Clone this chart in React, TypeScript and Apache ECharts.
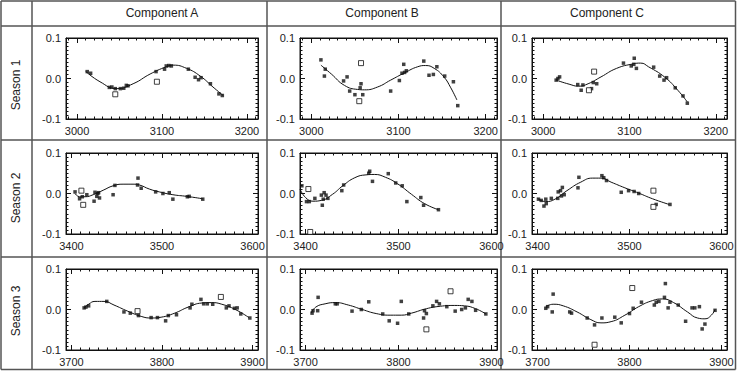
import React, { useEffect, useRef } from "react";
import * as echarts from "echarts";

// ---------- data ----------
const columnTitles = ["Component A", "Component B", "Component C"];
const rowTitles = ["Season 1", "Season 2", "Season 3"];
const rowXRanges = [
  [2987, 3213],
  [3394, 3606],
  [3694, 3906],
];
const yTicks = [-0.1, 0.0, 0.1];

// Season 1
const s1aFilled = [[3012,0.017],[3016,0.013],[3038,-0.022],[3041,-0.021],[3045,-0.025],[3051,-0.025],[3055,-0.024],[3058,-0.017],[3060,-0.018],[3093,0.017],[3103,0.023],[3105,0.031],[3108,0.032],[3111,0.031],[3131,0.023],[3139,0.003],[3143,-0.003],[3146,0.002],[3157,-0.013],[3167,-0.038],[3171,-0.042]];
const s1aOpen = [[3045,-0.039],[3094,-0.008]];
const s1aFit = [[3010,0.018],[3027,-0.008],[3047,-0.025],[3066,-0.013],[3086,0.011],[3105,0.029],[3113,0.033],[3129,0.025],[3145,0.006],[3160,-0.021],[3172,-0.042]];

const s1bFilled = [[3011,0.046],[3016,0.023],[3015,0.006],[3037,-0.006],[3041,0.004],[3044,-0.031],[3050,-0.040],[3056,-0.023],[3057,-0.013],[3059,-0.040],[3091,-0.031],[3101,-0.005],[3104,0.013],[3106,0.035],[3107,0.015],[3109,0.019],[3129,0.043],[3135,0.008],[3140,0.010],[3144,0.029],[3153,0.006],[3163,-0.008],[3168,-0.067]];
const s1bOpen = [[3057,0.038],[3055,-0.056]];
const s1bFit = [[3011,0.033],[3023,0.011],[3038,-0.017],[3053,-0.027],[3061,-0.028],[3076,-0.021],[3091,-0.004],[3107,0.014],[3122,0.029],[3131,0.032],[3141,0.025],[3152,0.004],[3160,-0.023],[3167,-0.053]];

const s1cFilled = [[3015,-0.004],[3017,0.0],[3019,0.004],[3040,-0.015],[3044,-0.029],[3046,-0.016],[3056,-0.025],[3058,-0.010],[3062,-0.013],[3093,0.038],[3102,0.031],[3105,0.035],[3105.5,0.050],[3108,0.025],[3128,0.028],[3135,0.006],[3140,-0.004],[3143,0.002],[3153,-0.023],[3162,-0.043],[3167,-0.061]];
const s1cOpen = [[3059,0.017],[3053,-0.029]];
const s1cFit = [[3015,-0.004],[3030,-0.014],[3041,-0.019],[3052,-0.013],[3067,0.004],[3085,0.025],[3104,0.036],[3113,0.038],[3122,0.029],[3141,0.003],[3156,-0.029],[3167,-0.058]];

// Season 2
const s2aFilled = [[3404,0.004],[3409,-0.013],[3412,-0.008],[3417,-0.003],[3425,-0.019],[3426,0.003],[3428,-0.007],[3429,0.0],[3430,0.002],[3431,-0.011],[3446,-0.003],[3448,0.020],[3473,0.021],[3473.5,0.038],[3477,0.013],[3493,0.004],[3501,0.0],[3508,0.002],[3512,-0.014],[3528,-0.008],[3530,-0.007],[3545,-0.014]];
const s2aOpen = [[3411,0.007],[3413,-0.028]];
const s2aFit = [[3404,0.0],[3409,-0.008],[3415,-0.008],[3424,-0.003],[3435,0.008],[3446,0.019],[3457,0.023],[3468,0.023],[3475,0.021],[3486,0.011],[3497,0.004],[3512,-0.003],[3527,-0.007],[3545,-0.013]];

const s2bFilled = [[3396,0.019],[3401,-0.020],[3404,-0.020],[3410,-0.012],[3417,-0.004],[3418,-0.029],[3419,-0.014],[3420,0.002],[3422,-0.004],[3424,-0.012],[3439,0.007],[3441,0.021],[3468,0.050],[3469,0.055],[3472,0.030],[3489,0.049],[3497,0.026],[3504,0.019],[3509,-0.020],[3524,-0.010],[3527,-0.029],[3543,-0.040]];
const s2bOpen = [[3403,0.011],[3405,-0.095]];
const s2bFit = [[3394,0.011],[3400,-0.010],[3408,-0.019],[3417,-0.017],[3429,-0.002],[3440,0.019],[3453,0.039],[3465,0.046],[3474,0.047],[3486,0.040],[3499,0.024],[3514,-0.002],[3528,-0.025],[3543,-0.040]];

const s2cFilled = [[3401,-0.014],[3404,-0.017],[3407,-0.031],[3409,-0.014],[3409.5,-0.025],[3415,-0.012],[3422,-0.012],[3422.5,0.004],[3425,0.007],[3426,-0.006],[3427,0.015],[3429,-0.003],[3444,0.014],[3445,0.040],[3470,0.044],[3472,0.039],[3475,0.032],[3491,0.003],[3499,0.007],[3505,0.005],[3510,0.0],[3529,-0.027],[3544,-0.027]];
const s2cOpen = [[3526,0.007],[3526,-0.033]];
const s2cFit = [[3400,-0.012],[3409,-0.020],[3419,-0.014],[3432,0.007],[3447,0.028],[3460,0.038],[3469,0.038],[3480,0.028],[3495,0.014],[3510,0.001],[3525,-0.013],[3543,-0.027]];

// Season 3
const s3aFilled = [[3714,0.004],[3716,0.006],[3719,0.009],[3739,0.020],[3758,-0.006],[3765,-0.009],[3774,-0.015],[3788,-0.020],[3795,-0.020],[3804,-0.028],[3807,-0.015],[3816,-0.013],[3831,0.004],[3833,0.013],[3843,0.025],[3846,0.014],[3850,0.014],[3856,0.013],[3871,0.004],[3874,0.009],[3880,0.003],[3883,0.004],[3887,-0.011],[3897,-0.021]];
const s3aOpen = [[3773,-0.004],[3865,0.031]];
const s3aFit = [[3714,0.004],[3719,0.013],[3726,0.020],[3736,0.020],[3747,0.011],[3762,-0.004],[3777,-0.017],[3788,-0.021],[3799,-0.019],[3814,-0.009],[3829,0.006],[3844,0.016],[3855,0.017],[3866,0.013],[3881,0.0],[3896,-0.020]];

const s3bFilled = [[3707,-0.009],[3708,-0.003],[3713,-0.003],[3713.5,0.030],[3732,0.014],[3734,0.014],[3750,-0.004],[3760,0.0],[3768,0.019],[3783,-0.011],[3790,-0.028],[3799,-0.034],[3803,0.020],[3811,-0.011],[3827,-0.021],[3828,-0.003],[3830,-0.010],[3837,0.009],[3841,0.020],[3844,0.014],[3852,0.007],[3861,-0.004],[3868,0.0],[3872,0.004],[3875,0.025],[3879,0.020],[3883,-0.002],[3894,-0.011]];
const s3bOpen = [[3830,-0.049],[3856,0.045]];
const s3bFit = [[3706,-0.009],[3711,0.006],[3721,0.014],[3732,0.017],[3746,0.011],[3761,0.0],[3776,-0.010],[3791,-0.014],[3803,-0.014],[3814,-0.009],[3830,0.002],[3845,0.008],[3860,0.010],[3871,0.009],[3883,0.002],[3894,-0.011]];

const s3cFilled = [[3709,0.003],[3711,0.007],[3716,-0.006],[3717,0.038],[3735,-0.006],[3737,-0.009],[3754,-0.021],[3762,-0.038],[3770,-0.021],[3784,-0.019],[3791,-0.033],[3800,-0.010],[3804,0.003],[3813,0.018],[3827,0.011],[3829,0.018],[3832,0.020],[3838,0.030],[3839,0.064],[3842,0.004],[3844,0.018],[3853,0.011],[3861,-0.029],[3868,0.004],[3871,0.004],[3876,0.007],[3879,-0.048],[3882,-0.036],[3893,-0.002]];
const s3cOpen = [[3762,-0.087],[3803,0.053]];
const s3cFit = [[3709,0.007],[3717,0.013],[3728,0.009],[3743,-0.006],[3758,-0.025],[3769,-0.033],[3780,-0.030],[3795,-0.014],[3810,0.007],[3825,0.022],[3836,0.026],[3848,0.017],[3863,-0.006],[3874,-0.021],[3882,-0.023],[3889,-0.014],[3893,0.0]];

const panelFilled = [
  [s1aFilled, s1bFilled, s1cFilled],
  [s2aFilled, s2bFilled, s2cFilled],
  [s3aFilled, s3bFilled, s3cFilled],
];
const panelOpen = [
  [s1aOpen, s1bOpen, s1cOpen],
  [s2aOpen, s2bOpen, s2cOpen],
  [s3aOpen, s3bOpen, s3cOpen],
];
const panelFit = [
  [s1aFit, s1bFit, s1cFit],
  [s2aFit, s2bFit, s2cFit],
  [s3aFit, s3bFit, s3cFit],
];

// ---------- layout ----------
const W = 737;
const H = 371;
const gridLefts = [66, 300, 532];
const gridWidths = [192, 197, 195];
const gridTops = [38, 153, 269];
const gridHeights = [81, 81, 81];
const vLines = [1, 32, 267, 501, 735.5];
const hLines = [1, 26, 140, 257, 369.5];
const headerX = [162, 382, 607];
const headerY = 13;
const seasonX = 16;
const seasonY = [85, 198, 311];

const FONT = "'Liberation Sans', Arial, Helvetica, sans-serif";
const INK = "#111";
const GRID_LINE = "#555";

function xAxisFor(g: number, r: number, pos: string, labels: boolean) {
  return {
    type: "value",
    gridIndex: g,
    position: pos,
    min: rowXRanges[r][0],
    max: rowXRanges[r][1],
    minInterval: 100,
    maxInterval: 100,
    splitNumber: 2,
    splitLine: { show: false },
    axisLine: { show: true, onZero: false, lineStyle: { color: INK } },
    axisTick: { show: true, inside: true, length: 5, lineStyle: { color: INK } },
    minorTick: { show: true, splitNumber: 10, length: 2.5, lineStyle: { color: INK } },
    axisLabel: labels
      ? {
          margin: 6,
          fontSize: 11,
          color: "#222",
          formatter: (v: number) => (Math.abs(v % 100) < 1e-6 ? String(v) : ""),
        }
      : { show: false },
  };
}

function yAxisFor(g: number, pos: string, labels: boolean) {
  return {
    type: "value",
    gridIndex: g,
    position: pos,
    min: yTicks[0],
    max: yTicks[yTicks.length - 1],
    interval: 0.1,
    splitLine: { show: false },
    axisLine: { show: true, onZero: false, lineStyle: { color: INK } },
    axisTick: { show: true, inside: true, length: 5, lineStyle: { color: INK } },
    minorTick: { show: true, splitNumber: 10, length: 2.5, lineStyle: { color: INK } },
    axisLabel: labels
      ? { margin: 5, fontSize: 11, color: "#222", formatter: (v: number) => Number(v).toFixed(1) }
      : { show: false },
  };
}

export default function App() {
  const ref = useRef<HTMLDivElement>(null);

  useEffect(() => {
    document.body.style.margin = "0";
    if (!ref.current) return;
    const chart = echarts.init(ref.current, undefined, { renderer: "svg" });

    const grids: any[] = [];
    const xAxes: any[] = [];
    const yAxes: any[] = [];
    const series: any[] = [];

    for (let r = 0; r < 3; r++) {
      for (let c = 0; c < 3; c++) {
        const g = r * 3 + c;
        grids.push({
          left: gridLefts[c],
          top: gridTops[r],
          width: gridWidths[c],
          height: gridHeights[r],
          show: true,
          borderColor: INK,
          borderWidth: 1,
          backgroundColor: "transparent",
        });
        xAxes.push(xAxisFor(g, r, "bottom", true));
        xAxes.push(xAxisFor(g, r, "top", false));
        yAxes.push(yAxisFor(g, "left", true));
        yAxes.push(yAxisFor(g, "right", false));

        series.push({
          type: "line",
          xAxisIndex: 2 * g,
          yAxisIndex: 2 * g,
          data: panelFit[r][c],
          smooth: 0.5,
          showSymbol: false,
          lineStyle: { color: INK, width: 1 },
        });
        series.push({
          type: "scatter",
          xAxisIndex: 2 * g,
          yAxisIndex: 2 * g,
          data: panelFilled[r][c],
          symbol: "rect",
          symbolSize: 3.5,
          itemStyle: { color: INK },
        });
        series.push({
          type: "scatter",
          xAxisIndex: 2 * g,
          yAxisIndex: 2 * g,
          data: panelOpen[r][c],
          symbol: "rect",
          symbolSize: 5,
          itemStyle: { color: "#fff", borderColor: INK, borderWidth: 1 },
        });
      }
    }

    const graphics: any[] = [];
    vLines.forEach((x) =>
      graphics.push({
        type: "line",
        shape: { x1: x, y1: hLines[0], x2: x, y2: hLines[hLines.length - 1] },
        style: { stroke: GRID_LINE, lineWidth: 1.5 },
        silent: true,
      })
    );
    hLines.forEach((y) =>
      graphics.push({
        type: "line",
        shape: { x1: vLines[0], y1: y, x2: vLines[vLines.length - 1], y2: y },
        style: { stroke: GRID_LINE, lineWidth: 1.5 },
        silent: true,
      })
    );
    columnTitles.forEach((t, i) =>
      graphics.push({
        type: "text",
        x: headerX[i],
        y: headerY,
        style: {
          text: t,
          font: `12px ${FONT}`,
          fill: "#222",
          textAlign: "center",
          textVerticalAlign: "middle",
        },
      })
    );
    rowTitles.forEach((t, i) =>
      graphics.push({
        type: "text",
        x: seasonX,
        y: seasonY[i],
        rotation: Math.PI / 2,
        style: {
          text: t,
          font: `12px ${FONT}`,
          fill: "#222",
          textAlign: "center",
          textVerticalAlign: "middle",
        },
      })
    );

    chart.setOption({
      animation: false,
      textStyle: { fontFamily: FONT },
      grid: grids,
      xAxis: xAxes,
      yAxis: yAxes,
      series,
      graphic: graphics,
    });

    return () => chart.dispose();
  }, []);

  return <div ref={ref} style={{ width: W, height: H }} />;
}
